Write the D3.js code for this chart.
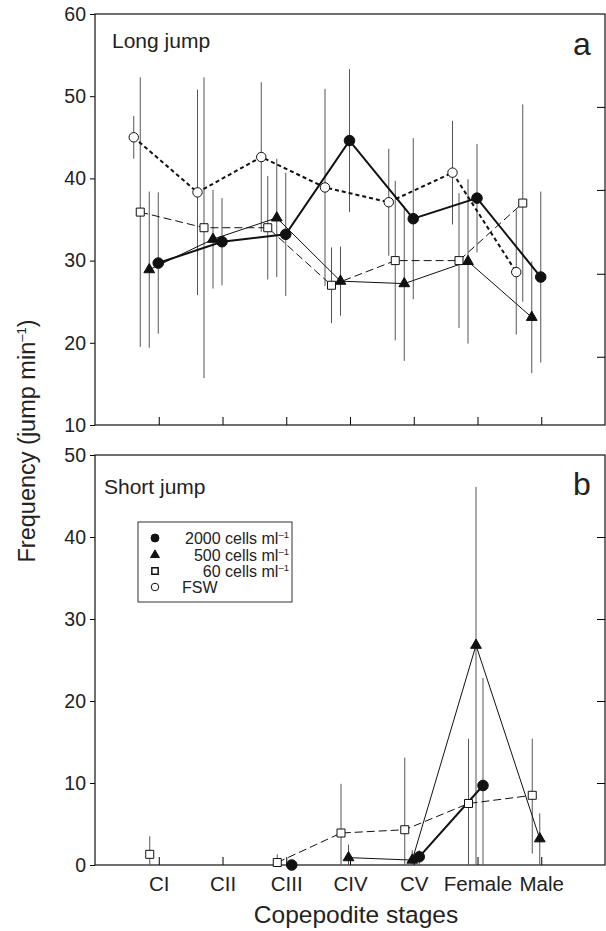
<!DOCTYPE html>
<html>
<head>
<meta charset="utf-8">
<script src="https://cdn.jsdelivr.net/npm/d3@7"></script>
<style>
  body { margin: 0; background: #fff; }
  svg text { font-family: "Liberation Sans", Arial, sans-serif; fill: #222; }
</style>
</head>
<body>
<div id="chart"></div>
<script>
const stages = ["CI", "CII", "CIII", "CIV", "CV", "Female", "Male"];

// panel a: long jump, mean and SD per stage
const long2000 = [29.7, 32.3, 33.2, 44.6, 35.1, 37.6, 28.0];
const long2000Sd = [8.6, 5.3, 7.5, 8.7, 9.8, 6.6, 10.4];
const long500 = [28.9, 32.6, 35.2, 27.5, 27.2, 29.9, 23.1];
const long500Sd = [9.5, 6.0, 7.2, 4.2, 9.4, 10.0, 6.8];
const long60 = [35.9, 34.0, 34.0, 27.0, 30.0, 30.0, 37.0];
const long60Sd = [16.4, 18.3, 6.3, 4.6, 9.7, 8.2, 12.0];
const longFSW = [45.0, 38.3, 42.6, 38.9, 37.1, 40.7, 28.6];
const longFSWSd = [2.6, 12.5, 9.1, 12.0, 6.5, 6.3, 7.6];

// panel b: short jump, mean with low / high end of the bar
const short2000 = [null, null, 0, null, 1.0, 9.7, null];
const short2000Lo = [null, null, 0, null, 0, 0, null];
const short2000Hi = [null, null, 0, null, 1.8, 22.8, null];
const short500 = [null, null, null, 0.9, 0.6, 26.8, 3.2];
const short500Lo = [null, null, null, 0, 0, 0, 0];
const short500Hi = [null, null, null, 2.5, 1.8, 46.1, 6.3];
const short60 = [1.3, null, 0.3, 3.9, 4.3, 7.5, 8.5];
const short60Lo = [0, null, 0, 0, 0, 0, 1.4];
const short60Hi = [3.5, null, 1.3, 9.9, 13.1, 15.4, 15.4];

const legendLabels = ["2000 cells ml", "500 cells ml", "60 cells ml", "FSW"];

const W = 606, H = 931;
const svg = d3.select("#chart").append("svg")
    .attr("width", W)
    .attr("height", H);

const x = d3.scaleLinear().domain([-1, 7]).range([95, 605]);

const styles = {
    c2000: {symbol: d3.symbolCircle, size: 88, fill: "#111", width: 2, dash: null},
    c500: {symbol: d3.symbolTriangle, size: 50, fill: "#111", width: 1, dash: null},
    c60: {symbol: d3.symbolSquare, size: 64, fill: "#fff", width: 1, dash: "8,4"},
    fsw: {symbol: d3.symbolCircle, size: 70, fill: "#fff", width: 2, dash: "4,3"}
};

function sdRows(mean, sd) {
    return mean.map((v, i) => ({i, v, lo: v - sd[i], hi: v + sd[i]}));
}
function rangeRows(mean, lo, hi) {
    return mean.map((v, i) => ({i, v, lo: lo[i], hi: hi[i]}));
}

function drawPanel(cfg) {
    const y = d3.scaleLinear().domain(cfg.domain).range([cfg.bottom, cfg.top]);
    const g = svg.append("g");

    // left axis, outward ticks
    g.append("g")
        .attr("transform", `translate(${x.range()[0]},0)`)
        .call(d3.axisLeft(y).tickValues(cfg.ticks).tickSize(5).tickPadding(4))
        .call(a => a.select(".domain").remove())
        .call(a => a.selectAll("text").attr("font-size", 19.5).attr("fill", "#222"));

    // right axis, inward ticks
    g.append("g")
        .attr("transform", `translate(${x.range()[1]},0)`)
        .call(d3.axisLeft(y).tickValues(cfg.rightTicks).tickSize(8).tickFormat(""))
        .call(a => a.select(".domain").remove());

    // bottom ticks pointing in
    const xAxis = d3.axisBottom(x).tickValues(d3.range(stages.length))
        .tickSizeInner(-8).tickSizeOuter(0).tickPadding(11)
        .tickFormat(cfg.showLabels ? (i => stages[i]) : "");
    g.append("g")
        .attr("transform", `translate(0,${cfg.bottom})`)
        .call(xAxis)
        .call(a => a.select(".domain").remove())
        .call(a => a.selectAll("text").attr("font-size", 20.5).attr("fill", "#222"));

    g.append("rect")
        .attr("x", x.range()[0]).attr("y", cfg.top)
        .attr("width", x.range()[1] - x.range()[0])
        .attr("height", cfg.bottom - cfg.top)
        .attr("fill", "none").attr("stroke", "#111").attr("stroke-width", 1.2);

    // error bars
    cfg.series.forEach(s => {
        g.append("g").selectAll("line")
            .data(s.rows.filter(d => d.v != null && d.lo != null))
            .join("line")
            .attr("x1", d => x(d.i) + s.offset)
            .attr("x2", d => x(d.i) + s.offset)
            .attr("y1", d => y(Math.max(d.lo, cfg.domain[0])))
            .attr("y2", d => y(d.hi))
            .attr("stroke", "#555")
            .attr("stroke-width", 1);
    });

    // connecting lines
    cfg.series.forEach(s => {
        const st = styles[s.key];
        const line = d3.line()
            .defined(d => d.v != null)
            .x(d => x(d.i) + s.offset)
            .y(d => y(d.v));
        g.append("path")
            .datum(s.rows)
            .attr("d", line)
            .attr("fill", "none")
            .attr("stroke", "#111")
            .attr("stroke-width", st.width)
            .attr("stroke-dasharray", st.dash);
    });

    // markers
    cfg.series.forEach(s => {
        const st = styles[s.key];
        g.append("g").selectAll("path")
            .data(s.rows.filter(d => d.v != null))
            .join("path")
            .attr("d", d3.symbol(st.symbol, st.size))
            .attr("transform", d => `translate(${x(d.i) + s.offset},${y(d.v)})`)
            .attr("fill", st.fill)
            .attr("stroke", "#111")
            .attr("stroke-width", 1);
    });

    g.append("text")
        .attr("x", cfg.titleX).attr("y", cfg.titleY)
        .attr("font-size", 21)
        .text(cfg.title);

    g.append("text")
        .attr("x", 573).attr("y", cfg.letterY)
        .attr("font-size", 32)
        .text(cfg.letter);

    return y;
}

drawPanel({
    top: 14, bottom: 425, domain: [10, 60],
    ticks: [10, 20, 30, 40, 50, 60],
    rightTicks: [48.7, 38.6, 28.4, 18.3],
    showLabels: false,
    title: "Long jump", titleX: 112, titleY: 48,
    letter: "a", letterY: 55,
    series: [
        {key: "c60", offset: -18.5, rows: sdRows(long60, long60Sd)},
        {key: "c500", offset: -9.5, rows: sdRows(long500, long500Sd)},
        {key: "fsw", offset: -25, rows: sdRows(longFSW, longFSWSd)},
        {key: "c2000", offset: -0.5, rows: sdRows(long2000, long2000Sd)}
    ]
});

drawPanel({
    top: 455, bottom: 865, domain: [0, 50],
    ticks: [0, 10, 20, 30, 40, 50],
    rightTicks: [10, 20, 30, 40],
    showLabels: true,
    title: "Short jump", titleX: 104, titleY: 494,
    letter: "b", letterY: 495,
    series: [
        {key: "c60", offset: -9, rows: rangeRows(short60, short60Lo, short60Hi)},
        {key: "c500", offset: -1.5, rows: rangeRows(short500, short500Lo, short500Hi)},
        {key: "c2000", offset: 5.5, rows: rangeRows(short2000, short2000Lo, short2000Hi)}
    ]
});

// legend
const legend = svg.append("g");
legend.append("rect")
    .attr("x", 138).attr("y", 522).attr("width", 154).attr("height", 80)
    .attr("fill", "#fff").attr("stroke", "#333").attr("stroke-width", 1);

const legendKeys = ["c2000", "c500", "c60", "fsw"];
const legendY = [538, 555, 571, 587];
const legendSize = {c2000: 50, c500: 34, c60: 40, fsw: 44};
legendKeys.forEach((k, i) => {
    legend.append("path")
        .attr("d", d3.symbol(styles[k].symbol, legendSize[k]))
        .attr("transform", `translate(155,${legendY[i]})`)
        .attr("fill", styles[k].fill)
        .attr("stroke", "#111")
        .attr("stroke-width", k === "c60" ? 1.5 : 1);
    const t = legend.append("text")
        .attr("y", legendY[i] + 5.5)
        .attr("font-size", 16);
    if (k === "fsw") {
        t.attr("x", 182).text(legendLabels[i]);
    } else {
        t.attr("x", 289).attr("text-anchor", "end").text(legendLabels[i]);
        t.append("tspan").attr("font-size", 9.5).attr("dy", -6).text("\u20131");
    }
});

// axis titles
const yTitle = svg.append("text")
    .attr("transform", "translate(35,441) rotate(-90)")
    .attr("text-anchor", "middle")
    .attr("font-size", 23.5)
    .text("Frequency (jump min");
yTitle.append("tspan").attr("font-size", 13).attr("dy", -9).text("\u20131");
yTitle.append("tspan").attr("dy", 9).text(")");

svg.append("text")
    .attr("x", 356).attr("y", 923)
    .attr("text-anchor", "middle")
    .attr("font-size", 24.5)
    .text("Copepodite stages");
</script>
</body>
</html>
